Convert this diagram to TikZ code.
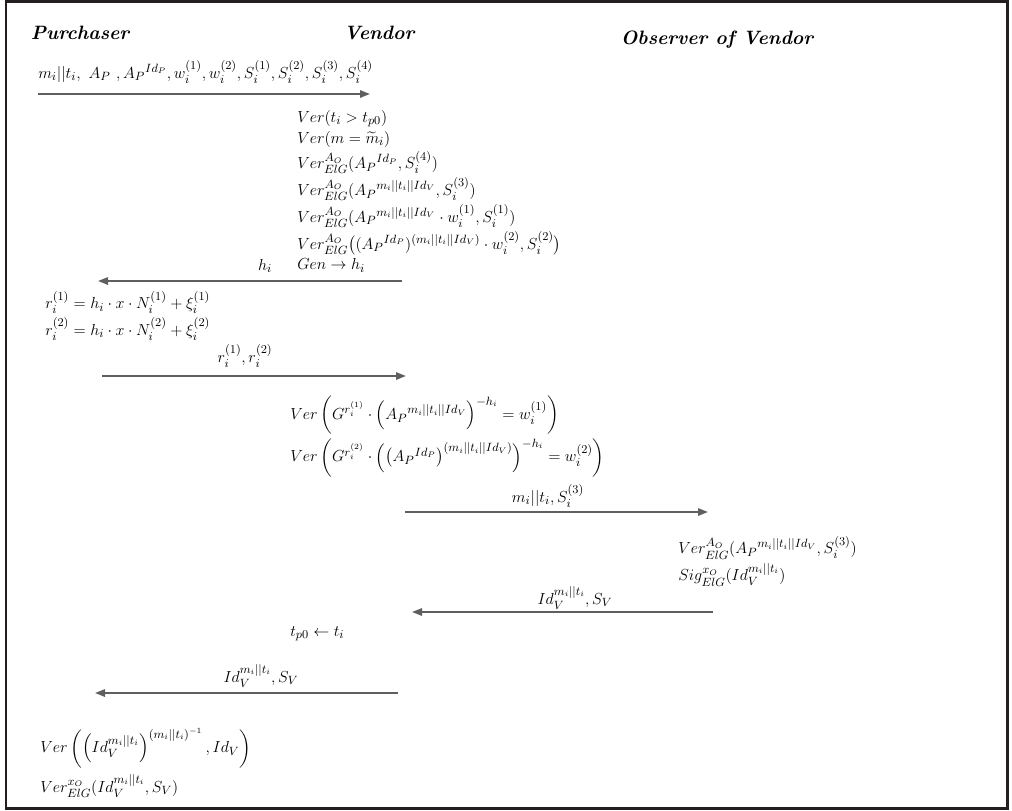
\documentclass[tikz,border=0pt]{standalone}
\usepackage{amsmath}
\usetikzlibrary{arrows.meta}
\definecolor{arrowgray}{RGB}{95,95,95}
\definecolor{framecol}{RGB}{35,31,32}
\newcommand{\dbar}{{|}{|}}
\newcommand{\blkfont}{\fontsize{12.5}{14}\selectfont\setlength{\lineskiplimit}{2.5pt}\setlength{\lineskip}{3pt}}
\begin{document}
\begin{tikzpicture}[x=0.75pt,y=-0.75pt,
  txt/.style={anchor=west,inner sep=0pt,font=\fontsize{12.5}{15}\selectfont},
  blk/.style={anchor=north west,inner sep=0pt,align=left,font=\blkfont},
  lbl/.style={inner sep=0pt,font=\fontsize{12.5}{15}\selectfont},
  role/.style={inner sep=0pt,font=\fontsize{14.5}{17}\selectfont\bfseries\itshape},
  msg/.style={draw=arrowgray,line width=1.4pt,-{Triangle[length=7.5pt,width=5.5pt]}}]
\useasboundingbox (0,0) rectangle (1012,810);
\draw[framecol,line width=2.2pt] (6,1.5) rectangle (1007.5,808.5);
% roles
\node[role] (pur) at (80,33) {Purchaser};
\node[role] (ven) at (379,33) {Vendor};
\node[role] (obs) at (717,40) {Observer of Vendor};
% message 1
\coordinate (a1s) at (38,94);
\coordinate (a1e) at (370,94);
\draw[msg] (a1s) -- (a1e);
\node[txt] (l1) at (38,72) {$m_i\dbar t_i,\ A_P\ ,A_P{}^{Id_P},w_i^{(1)},w_i^{(2)},S_i^{(1)},S_i^{(2)},S_i^{(3)},S_i^{(4)}$};
% vendor checks
\node[blk] (vchk) at (297,110) {$Ver(t_i > t_{p0})$\\
$Ver(m = \widetilde{m}_i)$\\
$Ver^{A_O}_{ElG}(A_P{}^{Id_P},S_i^{(4)})$\\
$Ver^{A_O}_{ElG}(A_P{}^{m_i\dbar t_i\dbar Id_V},S_i^{(3)})$\\
$Ver^{A_O}_{ElG}(A_P{}^{m_i\dbar t_i\dbar Id_V}\cdot w_i^{(1)},S_i^{(1)})$\\
$Ver^{A_O}_{ElG}\big((A_P{}^{Id_P})^{(m_i\dbar t_i\dbar Id_V)}\cdot w_i^{(2)},S_i^{(2)}\big)$\\
$Gen\rightarrow h_i$};
% message 2
\coordinate (a2s) at (402,281);
\coordinate (a2e) at (98,281);
\draw[msg] (a2s) -- (a2e);
\node[lbl] (l2) at (265,266) {$h_i$};
% purchaser responses
\node[blk] (pcalc) at (45,291) {$r_i^{(1)} = h_i\cdot x\cdot N_i^{(1)} + \xi_i^{(1)}$\\
$r_i^{(2)} = h_i\cdot x\cdot N_i^{(2)} + \xi_i^{(2)}$};
% message 3
\coordinate (a3s) at (102,376);
\coordinate (a3e) at (406,376);
\draw[msg] (a3s) -- (a3e);
\node[lbl] (l3) at (245,356) {$r_i^{(1)},r_i^{(2)}$};
% vendor verification
\node[blk] (vver) at (290,396) {$Ver\left(G^{r_i^{(1)}}\cdot\left(A_P{}^{m_i\dbar t_i\dbar Id_V}\right)^{-h_i} = w_i^{(1)}\right)$\\
$Ver\left(G^{r_i^{(2)}}\cdot\left(\left(A_P{}^{Id_P}\right)^{(m_i\dbar t_i\dbar Id_V)}\right)^{-h_i} = w_i^{(2)}\right)$};
% message 4
\coordinate (a4s) at (405,512);
\coordinate (a4e) at (708,512);
\draw[msg] (a4s) -- (a4e);
\node[lbl] (l4) at (548,496) {$m_i\dbar t_i,S_i^{(3)}$};
% observer
\node[blk] (ochk) at (678,536) {$Ver^{A_O}_{ElG}(A_P{}^{m_i\dbar t_i\dbar Id_V},S_i^{(3)})$\\
$Sig^{x_O}_{ElG}(Id_V^{m_i\dbar t_i})$};
% message 5
\coordinate (a5s) at (713,612);
\coordinate (a5e) at (412,612);
\draw[msg] (a5s) -- (a5e);
\node[lbl] (l5) at (575,598) {$Id_V^{m_i\dbar t_i},S_V$};
% vendor update
\node[txt] (v10) at (290,634) {$t_{p0}\leftarrow t_i$};
% message 6
\coordinate (a6s) at (398,693);
\coordinate (a6e) at (95,693);
\draw[msg] (a6s) -- (a6e);
\node[lbl] (l6) at (261,676) {$Id_V^{m_i\dbar t_i},S_V$};
% purchaser final checks
\node[blk] (fchk) at (40,728) {$Ver\left(\left(Id_V^{m_i\dbar t_i}\right)^{(m_i\dbar t_i)^{-1}},Id_V\right)$\\[2pt]
$Ver^{x_O}_{ElG}(Id_V^{m_i\dbar t_i},S_V)$};
\end{tikzpicture}
\end{document}
